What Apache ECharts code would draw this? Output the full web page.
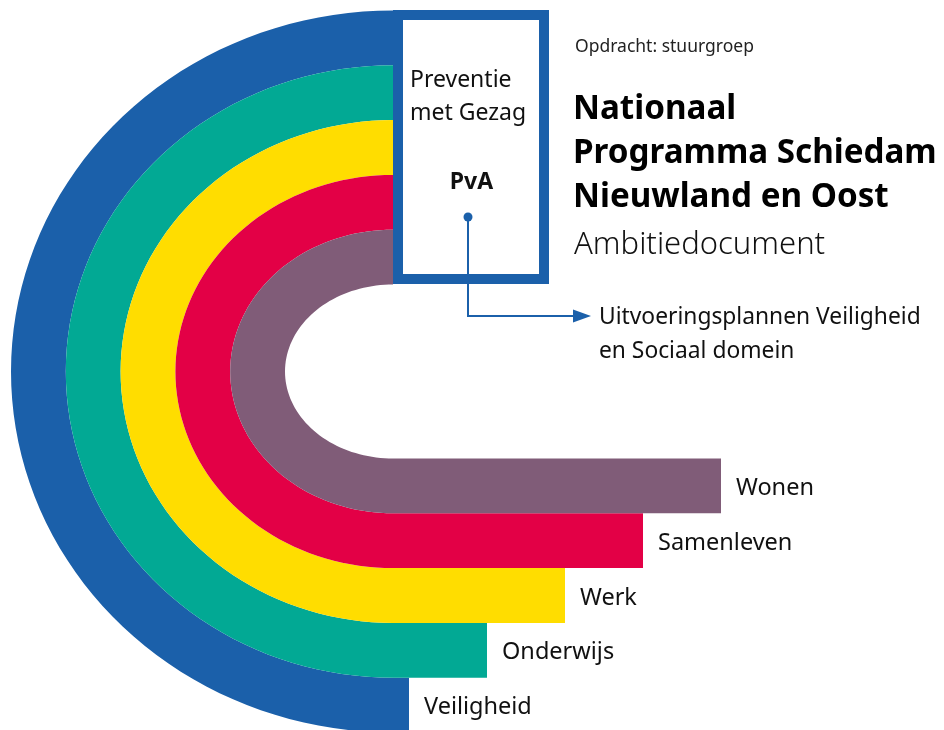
<!DOCTYPE html>
<html>
<head>
<meta charset="utf-8">
<script src="https://cdn.jsdelivr.net/npm/echarts@6/dist/echarts.min.js"></script>
<style>
  html, body { margin: 0; padding: 0; background: #fff; }
  #app { width: 944px; height: 730px; }
</style>
</head>
<body>
<div id="app"></div>
<script>
// thema's, van de buitenste band naar de binnenste
const categories = ["Veiligheid", "Onderwijs", "Werk", "Samenleven", "Wonen"];
// hoe ver de balk onderaan naar rechts doorloopt, gemeten vanaf het midden van de boog
const reach = [16, 94, 172, 250, 328];
const colors = ["#1b60aa", "#02a994", "#ffdd00", "#e30046", "#805c78"];

const boxLines = ["Preventie", "met Gezag"];
const boxTitle = "PvA";
const topNote = "Opdracht: stuurgroep";
const titleLines = ["Nationaal", "Programma Schiedam", "Nieuwland en Oost"];
const subTitle = "Ambitiedocument";
const arrowLines = ["Uitvoeringsplannen Veiligheid", "en Sociaal domein"];

const FONT = "'Noto Sans'";
const BLUE = "#1b60aa";
const TEXT = "#111";
// binnenste boog en breedte van een band (assen lopen in pixels)
const RX0 = 108, RY0 = 87, BAND = 54.8;
const STEPS = 80;

function renderBand(params, api) {
  let i = api.value(0);
  let len = api.value(1);
  let k = categories.length - i;
  let rxO = RX0 + BAND * k, ryO = RY0 + BAND * k;
  let rxI = rxO - BAND, ryI = ryO - BAND;
  let pts = [];
  for (let s = 0; s <= STEPS; s++) {
    let a = Math.PI / 2 + (Math.PI * s) / STEPS;
    pts.push(api.coord([rxO * Math.cos(a), ryO * Math.sin(a)]));
  }
  pts.push(api.coord([len, -ryO]));
  pts.push(api.coord([len, -ryI]));
  for (let s = STEPS; s >= 0; s--) {
    let a = Math.PI / 2 + (Math.PI * s) / STEPS;
    pts.push(api.coord([rxI * Math.cos(a), ryI * Math.sin(a)]));
  }
  let lp = api.coord([len, -(ryO + ryI) / 2]);
  return {
    type: "group",
    children: [
      { type: "polygon", shape: { points: pts }, style: { fill: colors[i] } },
      {
        type: "text",
        x: lp[0] + 15,
        y: lp[1] + 2.5,
        style: {
          text: categories[i],
          font: "23.5px " + FONT,
          fill: TEXT,
          verticalAlign: "middle",
        },
      },
    ],
  };
}

function txt(x, y, text, font, extra) {
  let style = { text: text, font: font, fill: TEXT, verticalAlign: "middle" };
  Object.assign(style, extra || {});
  return { type: "text", x: x, y: y, z: 11, style: style };
}

let myChart = echarts.init(document.getElementById("app"));
let graphic = [
  // kader rond PvA
  {
    type: "rect",
    shape: { x: 398, y: 15, width: 146, height: 264 },
    style: { fill: "#fff", stroke: BLUE, lineWidth: 10 },
    z: 10,
  },
  txt(410, 80, boxLines[0], "23px " + FONT),
  txt(410, 113, boxLines[1], "23px " + FONT),
  txt(471.5, 182, boxTitle, "bold 23px " + FONT, { align: "center" }),
  // pijl naar de uitvoeringsplannen
  {
    type: "polyline", z: 12,
    shape: { points: [[468, 217], [468, 316], [578, 316]] },
    style: { stroke: BLUE, lineWidth: 2, fill: null },
  },
  { type: "circle", z: 12, shape: { cx: 468, cy: 217, r: 4.5 }, style: { fill: BLUE } },
  { type: "polygon", z: 12, shape: { points: [[573, 309.5], [591, 316], [573, 322.5]] }, style: { fill: BLUE } },
  txt(599, 318, arrowLines[0], "22.8px " + FONT),
  txt(599, 352, arrowLines[1], "22.8px " + FONT),
  // titelblok
  txt(575, 47, topNote, "17.5px " + FONT, { fill: "#222" }),
  txt(573, 110, titleLines[0], "bold 33.2px " + FONT, { fill: "#000" }),
  txt(573, 154, titleLines[1], "bold 33.2px " + FONT, { fill: "#000" }),
  txt(573, 198, titleLines[2], "bold 33.2px " + FONT, { fill: "#000" }),
  txt(574, 245, subTitle, "300 31px " + FONT),
];

let option = {
  animation: false,
  grid: { left: 0, right: 0, top: 0, bottom: 0 },
  xAxis: { type: "value", min: -393, max: 551, show: false },
  yAxis: { type: "value", min: -358.5, max: 371.5, show: false },
  series: [
    {
      type: "custom",
      renderItem: renderBand,
      clip: false,
      data: categories.map(function (c, i) { return [i, reach[i]]; }),
    },
  ],
  graphic: graphic,
};
myChart.setOption(option);
</script>
</body>
</html>
